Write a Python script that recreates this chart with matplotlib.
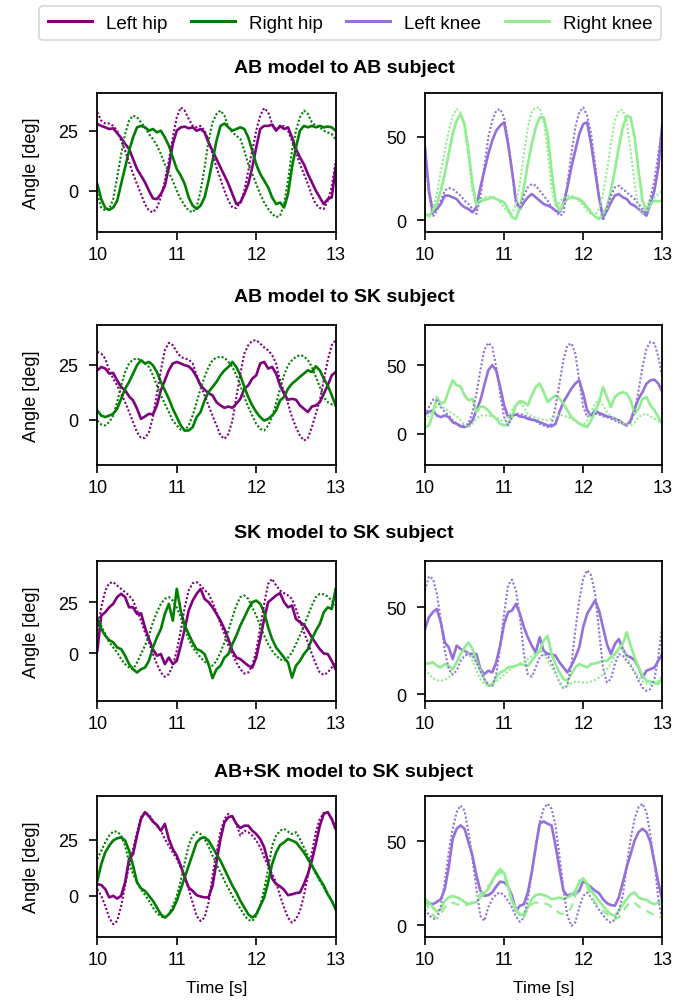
import numpy as np
import matplotlib.pyplot as plt
from matplotlib.lines import Line2D

plt.rcParams['font.family'] = ['Liberation Sans', 'DejaVu Sans']

# sample times [s], one every 0.05 s from 10 to 13
time = np.round(np.arange(10.0, 13.0001, 0.05), 2)

titles = ["AB model to AB subject", "AB model to SK subject",
          "SK model to SK subject", "AB+SK model to SK subject"]

# ---- row 1: AB model to AB subject ----
r1_lhip = [27.8, 27, 26.4, 25.7, 26, 24, 22, 19.5, 17.4, 13.2, 9, 6.3, 3.5, 0, -3.2, -3.5, -1.4, 2, 9.7, 19.5,
           25, 26.4, 26.7, 26, 26.4, 25, 25.7, 24.3, 20, 16.7, 13.2, 9.7, 6.3, 2.8, -1.4, -5.6, -4.9, -1.4, 2.8, 9.7,
           18, 25.7, 27, 27, 27.5, 25, 27, 25.7, 26.4, 22.2, 17.4, 13.9, 11, 7, 3.5, 0, -2.8, -5.6, -3.5, -2.8, 9.7]
r1_lhip_ref = [32.7, 29.2, 28, 28, 27, 25, 20.8, 16.7, 11.8, 7, 2.8, -1.4, -5.6, -8.3, -9, -7, -2.8, 4.2, 12.5, 22.2,
               30.6, 34.7, 33.4, 29.9, 27, 26.4, 27, 25, 20.8, 15.3, 9.7, 4.9, 0, -4.2, -7, -7.2, -4.9, 0, 8.3, 16.7,
               25, 31.3, 34.4, 32.7, 27.8, 25.7, 26.4, 27, 25, 20.8, 16, 11, 7, 2.8, -2, -5.6, -7.2, -7.6, -4.2, 1.4, 12.5]
r1_rhip = [2.8, -3.5, -7.2, -8, -7, -4.2, 2.8, 9.7, 16.7, 22.2, 26.4, 27, 26.4, 25, 25.7, 24.3, 25, 22.2, 18.8, 13.9,
           9, 6.3, 2.8, -2.8, -6.2, -7.6, -6.2, -2.8, 4.2, 12.5, 20.8, 27, 28, 26.4, 25, 25.7, 26.4, 25.7, 22.2, 16.7,
           11, 7, 4.2, 1.4, -2.8, -5.6, -4.9, -7, -1.4, 9.7, 18, 25, 27, 26.4, 27, 26.4, 27, 26.4, 26.7, 26.4, 25]
r1_rhip_ref = [-1.4, -7, -8.3, -7.6, -3.5, 5.6, 15.3, 23.6, 29.2, 31.3, 30.6, 28.5, 26.4, 23.6, 21.5, 18.8, 15.3, 11, 7.6, 4.2,
               0, -3.5, -6.2, -8.3, -9, -7, 0, 9.7, 20.8, 28.5, 31.9, 33.4, 31.3, 26.4, 24.3, 22.9, 21.5, 16.7, 11, 7,
               2.8, -1.4, -4.9, -7.6, -9.7, -11, -10.4, -5.6, 4.2, 16.7, 25, 30.6, 33.4, 32, 28.5, 27, 26.4, 25, 24.3, 23.6, 21.5]
r1_lknee = [43.6, 17.6, 4.6, 6.6, 9.6, 14.6, 14.6, 13.6, 12.6, 9.6, 7.6, 6.6, 4.6, 7.6, 19.6, 29.6, 39.6, 47.6, 53.6, 56.6,
            58.6, 45.6, 29.6, 11.6, 6.6, 10.6, 13.6, 15.6, 13.6, 11.6, 9.6, 8.6, 7.6, 5.6, 4.6, 9.6, 19.6, 31.6, 41.6, 51.6,
            57.6, 58.6, 45.6, 29.6, 13.6, 1.6, 5.6, 10.6, 14.6, 15.6, 13.6, 12.6, 9.6, 8.6, 6.6, 4.6, 2.6, 9.6, 17.6, 31.6, 57.6]
r1_lknee_ref = [41.6, 15.6, 2, 5.6, 11.6, 17.6, 19.2, 18.6, 16.6, 14.6, 11.6, 9.6, 6.6, 3.6, 13.6, 31.6, 49.6, 59.6, 65.6, 66.6,
                61.6, 47.6, 29.6, 9.6, 7.6, 14.6, 19.6, 21.6, 20.6, 17.6, 14.6, 11.6, 7.6, 5.6, 2.6, 3.6, 21.6, 39.6, 55.6, 64.6,
                67.6, 62.6, 51.6, 33.6, 13.6, -0.4, 7.6, 14.6, 19.6, 20.6, 18.6, 16.6, 14.6, 12.6, 9.6, 6.6, 3.6, 13.6, 23.6, 39.6, 55.6]
r1_rknee = [3.6, 2.6, 5.6, 9.6, 17.6, 27.6, 39.6, 51.6, 59.6, 63.6, 57.6, 41.6, 21.6, 9.6, 11.2, 12, 12.6, 13.6, 12.6, 11.6,
            10.6, 6.6, 1.6, 0.6, 7.6, 19.6, 33.6, 45.6, 55.6, 61.6, 61.6, 51.6, 29.6, 11.6, 5.6, 9.6, 12.6, 13.6, 13.2, 12.6,
            10.6, 7.6, 4.6, 2, 0.6, 3.6, 7.6, 17.6, 29.6, 43.6, 55.6, 62.6, 61.6, 49.6, 29.6, 11.6, 4.6, 9.6, 11.6, 11.2, 11.6]
r1_rknee_ref = [2.6, 1.6, 6.6, 15.6, 29.6, 41.6, 53.6, 62.6, 66.6, 64.6, 55.6, 37.6, 17.6, 8.6, 12.6, 13.6, 14, 14, 13.2, 10.6,
                7.6, 4.6, 3.6, 9.6, 21.6, 39.6, 55.6, 64.6, 67.6, 67.2, 59.6, 41.6, 19.6, 7.6, 10.6, 13.6, 14.6, 14.6, 13.6, 11.6,
                8.6, 5.6, 3.6, 2.6, 6.6, 15.6, 29.6, 45.6, 59.6, 65.6, 66, 59.6, 41.6, 21.6, 6.6, 3.6, 7.6, 12.6, 13.6, 15.6, 17.6]

# ---- row 2: AB model to SK subject ----
r2_lhip = [22.4, 23.9, 23.2, 20.9, 21.2, 17.8, 14.8, 13.3, 10.5, 8.7, 4.9, 0.3, 1.4, 2.6, 2.3, 6.4, 13.3, 17.8, 22.4, 25.5,
           26.2, 25.5, 24.7, 24.2, 22.4, 19.4, 15.5, 13.6, 12, 11, 7.9, 6.4, 5.3, 5.9, 5.3, 7.2, 9.4, 14, 15.5, 18.6,
           20.1, 25.5, 26.2, 23.2, 23.9, 20.9, 15.5, 11.7, 9, 9.4, 9, 6.4, 4.9, 3.4, 5.9, 6.4, 7.9, 11.7, 15.5, 20.1, 21.6]
r2_lhip_ref = [30.8, 30, 27.7, 22.4, 18.6, 15.5, 11.7, 7.9, 3.4, -1.2, -5.8, -8.4, -8.4, -5.8, 1.1, 11.7, 22.4, 31.5, 34.9, 33.8,
               30.8, 28.5, 27.7, 27.3, 25.5, 20.1, 15.5, 11, 6.4, 1.8, -2.7, -7.3, -8.8, -6.6, -0.5, 10.2, 20.9, 30, 33.8, 35.8,
               36.1, 34.6, 32.8, 31.5, 29.3, 25.5, 17.8, 12.5, 7.2, 1.1, -3.5, -7.3, -9.6, -8.4, -3.5, 2.6, 8.7, 17.8, 27, 33.8, 36.1]
r2_rhip = [4.1, 1.8, 1.1, 1.8, 2.6, 4.9, 9.4, 14, 17.1, 20.9, 24.7, 27, 25.5, 26.2, 24.7, 21.6, 17.1, 13.3, 9.4, 4.9,
           1.1, -2.7, -5, -5, -3.5, 1.1, 3.4, 8.7, 12.5, 14.8, 17.1, 20.1, 22.4, 23.9, 26.2, 23.9, 20.1, 14.8, 10.2, 6.4,
           3.4, 1.1, -0.5, 0.3, 1.8, 4.1, 8.7, 10.2, 14, 16.3, 17.8, 19.4, 20.9, 22.4, 21.6, 24.2, 22.4, 18.6, 15.5, 11, 6.4]
r2_rhip_ref = [-0.5, -2.3, -2.7, -1.2, 1.8, 7.9, 15.5, 21.6, 25.5, 27.3, 27.7, 27, 25.5, 23.9, 20.1, 15.5, 11, 7.2, 3.4, -0.5,
               -2.7, -4.7, -5, -2.7, 1.8, 7.9, 14, 19.4, 23.9, 27, 28.2, 28.5, 28.2, 26.2, 23.9, 20.1, 15.5, 10.2, 5.6, 1.8,
               -2, -4.3, -5, -2.7, 1.1, 7.2, 14, 20.1, 24.7, 27, 28.5, 29.3, 28.8, 27, 23.9, 19.4, 14.8, 10.2, 7.9, 6.9, 6.4]
r2_lknee = [14.6, 15.9, 17.1, 13.4, 12.2, 13.4, 12.2, 8.5, 7.3, 5.4, 4.9, 6.1, 9.8, 17.1, 24.4, 35.4, 46.3, 50, 46.3, 34.1,
            20.7, 12.2, 13.4, 14.1, 12.7, 12.2, 11, 10.2, 9.8, 8.5, 7.3, 6.1, 5.4, 7.3, 15.9, 23.2, 28, 32.9, 36.6, 39,
            29.3, 17.1, 13.4, 17.1, 15.1, 14.1, 12.7, 12.2, 11, 9.8, 7.8, 6.1, 9.8, 18.3, 25.6, 30.5, 36.6, 39, 39.5, 36.6, 30.5]
r2_lknee_ref = [13.4, 19.5, 24.9, 24.4, 19.5, 15.9, 13.4, 9.8, 7.8, 6.1, 6.1, 7.3, 15.9, 29.3, 46.3, 61, 66.3, 63.4, 48.8, 29.3,
                12.2, 6.1, 12.2, 14.6, 14.6, 13.4, 12.7, 11, 9.3, 7.3, 6.1, 4.9, 7.3, 19.5, 36.6, 53.7, 64.6, 65.9, 58.5, 39,
                19.5, 12.2, 14.1, 14.6, 14.1, 12.7, 12.2, 11, 9.8, 8.5, 7.3, 6.1, 8.5, 15.9, 31.7, 48.8, 62.2, 67.1, 65.9, 56.1, 41.5]
r2_rknee = [4.9, 6.1, 14.6, 26.8, 22, 23.2, 31.7, 39, 35.4, 34.6, 28, 24.4, 25.6, 15.9, 20, 19.5, 17.1, 13.4, 11, 7.3,
            6.1, 7.3, 12.2, 20.7, 23.9, 23.2, 20.7, 28, 34.1, 36.6, 30.5, 23.2, 25.6, 28, 25.6, 22, 17.1, 12.2, 9.8, 7.3,
            6.1, 4.9, 9.8, 15.9, 23.2, 34.1, 26.8, 19.5, 26.8, 29.3, 30.5, 29.3, 24.4, 14.6, 18.3, 25.6, 26.8, 20.7, 17.1, 12.2, 7.3]
r2_rknee_ref = [9.8, 13.4, 17.1, 20, 20.7, 18.3, 16.6, 14.6, 12.7, 9.8, 6.8, 4.9, 7.3, 11, 13.4, 13.4, 13.4, 12.7, 12.2, 10.2,
                9.3, 12.2, 17.1, 22, 23.2, 19.5, 14.6, 12.7, 11.7, 11, 10.2, 9.8, 11, 12.7, 14.1, 13.4, 12.2, 11, 9.8, 7.8,
                6.8, 9.8, 15.9, 22, 24.4, 20.7, 15.9, 12.7, 11, 9.3, 7.8, 6.8, 6.1, 8.5, 12.2, 14.1, 14.6, 12.7, 11, 9.3, 7.3]

# ---- row 3: SK model to SK subject ----
r3_lhip = [1.3, 18.5, 20.1, 22.5, 24.2, 27.5, 29.1, 27.5, 22.5, 22.5, 19.3, 19.6, 12.7, 7, 2.1, -1.1, -0.3, -5.2, -2, -5.2,
           -3.6, 3.8, 11.9, 20.9, 25.8, 29.1, 31.5, 26.6, 25, 22.5, 19.3, 16, 11.9, 7, 1.3, -2, -2.8, -4.4, -6, -6.9,
           -2, 7, 16.8, 25, 26.6, 28.3, 29.4, 25, 22.5, 23.4, 16.8, 15.2, 14.1, 11.1, 7.8, 4.9, 2.1, 0, -0.3, -3.6, -7.7]
r3_lhip_ref = [11.1, 22.5, 30.7, 34.3, 34.8, 33.2, 31.5, 29.9, 28.3, 25.8, 20.9, 16, 10.3, 5.4, -0.3, -5.2, -9.3, -11.4, -10.1, -6,
               1.3, 11.1, 22.5, 30.7, 34.3, 34.8, 33.2, 31, 29.1, 25, 20.1, 14.4, 9.5, 3.8, -0.3, -4.4, -7.7, -9.8, -9.3, -6,
               1.3, 12.7, 24.2, 34, 36.4, 33.2, 30.7, 29.4, 28.3, 26.6, 21.7, 16, 10.3, 5.4, -0.3, -5.2, -9.3, -10.5, -9.3, -6.9, -3.6]
r3_rhip = [16.8, 11.9, 8.7, 6.5, 5.4, 2.9, 2.1, -1.1, -5.2, -7.7, -9.3, -7.7, -6.9, -3.6, 2.9, 7.8, 11.9, 19.3, 24.2, 16,
           31.5, 20.9, 13.6, 9.5, 5.4, 2.1, 1.3, -0.3, -5.2, -12.1, -7.7, -6, -2, -0.3, 4.6, 8.7, 13.6, 17.6, 21.7, 25,
           25.8, 24.2, 20.1, 12.7, 7, 2.9, 0.5, -2, -4.4, -11.8, -6, -3.6, -0.3, 2.1, 7, 11.1, 14.4, 20.1, 22.5, 21.7, 31.5]
r3_rhip_ref = [17.6, 13.6, 9.5, 5.4, 2.9, 0.5, -2.8, -5.2, -6.9, -7.7, -4.4, -0.3, 3.8, 8.7, 15.2, 20.1, 24.2, 26.6, 27.5, 25.8,
               22.5, 17.6, 11.9, 7, 2.9, 0.5, -2, -3.9, -5.6, -6, -3.6, 0.5, 5.4, 11.1, 17.6, 23.4, 27.5, 28.3, 26.6, 22.5,
               18.5, 13.6, 8.7, 4.6, 1.3, -1.1, -2.8, -3.6, -2, 0.5, 4.6, 8.7, 13.6, 18.5, 23.4, 27.5, 29.1, 28.8, 27.8, 25.8, 23.4]
r3_lknee = [37.5, 44.2, 47.1, 49, 41.3, 29.8, 26.9, 20.2, 27.9, 26, 25, 23.5, 23.1, 23.1, 14.4, 11.5, 13.5, 12.5, 18.3, 27.9,
            40.4, 47.1, 48.1, 51.9, 46.2, 38.5, 32.7, 27.9, 24, 32.7, 25, 23.1, 23.1, 22.1, 18.3, 15.4, 12.5, 16.3, 21.2, 26.9,
            38.5, 46.2, 50, 53.8, 48.1, 38.5, 28.8, 23.1, 28.8, 31.7, 26, 22.1, 21.2, 19.6, 15.4, 9.6, 13.5, 14.4, 15.4, 19.2, 23.1]
r3_lknee_ref = [59.6, 67.7, 66.3, 57.7, 42.3, 25, 14.4, 11.2, 13.5, 19.2, 22.1, 23.1, 22.1, 18.3, 13.5, 8.7, 5.4, 4.2, 11.5, 26.9,
                46.2, 62.5, 65.8, 59.6, 44.2, 23.1, 11.5, 10, 15.4, 21.2, 23.1, 22.1, 18.3, 12.5, 6.7, 3.5, 4.8, 17.3, 36.5, 53.8,
                66.3, 71.2, 68.3, 57.7, 36.5, 15.4, 6.7, 8.7, 17.3, 23.1, 22.1, 19.2, 16.3, 12.5, 7.7, 3.8, 1.9, 2.9, 8.7, 21.2, 40.4]
r3_rknee = [17.3, 17.7, 18.3, 16.3, 15.4, 17.3, 16.3, 14.4, 18.3, 23.1, 26.9, 29.8, 26, 19.2, 13.5, 8.7, 4.8, 5.8, 9.6, 12.5,
            13.5, 15.4, 15.8, 16.3, 17.3, 16.9, 16.3, 19.2, 22.1, 25, 30.8, 33.6, 23.1, 17.3, 12.5, 8.7, 7.7, 11.5, 15.4, 17.3,
            16.3, 15.4, 17.3, 17.7, 18.3, 19.2, 19.2, 21.2, 23.1, 26, 28.8, 35.6, 27.9, 21.2, 15.4, 10.6, 7.7, 7.3, 6.7, 5.8, 9.6]
r3_rknee_ref = [14.4, 11.5, 9.2, 8.1, 7.7, 8.1, 9.6, 13.5, 18.3, 23.1, 26, 24, 19.2, 13.5, 8.7, 5.8, 4.8, 5.4, 7.3, 9.2,
                11.2, 13.1, 15, 16.3, 17.7, 18.8, 20.2, 22.1, 24, 25, 23.1, 19.2, 15.4, 11.5, 7.7, 4.2, 4.8, 6.2, 7.3, 7.1,
                6.7, 6.7, 7.3, 8.1, 9.6, 11.5, 14.4, 17.3, 22.1, 26.5, 26, 22.1, 17.3, 13.1, 9.6, 7.3, 6.2, 5.8, 5.8, 7.7, 10.6]

# ---- row 4: AB+SK model to SK subject ----
r4_lhip = [5.2, 4.8, 3, -0.7, 0, -1.2, 0, 6, 16.4, 18.6, 26.8, 34.2, 37.2, 35.4, 33, 31.5, 29, 32, 25.3, 20.8,
           17.9, 13.4, 8.2, 3.7, 2.2, 0.3, -0.3, -0.7, -0.7, 4.5, 14.9, 25.3, 32.7, 35, 35.4, 32, 30.1, 31.2, 31.2, 29,
           27.5, 25.3, 21.6, 14.9, 7.7, 5.2, 4.2, 2.7, 0.3, 0.7, 1.2, 1.5, 5.2, 9.7, 15.6, 23.1, 31.2, 36.5, 37.2, 34.2, 29.8]
r4_lhip_ref = [3, 0, -4.5, -9.7, -12.6, -11.2, -4.5, 4.5, 13.4, 20.8, 28.3, 35, 37.2, 36, 33.5, 31.2, 29, 25.3, 22.3, 19.3,
               16.4, 12.6, 8.9, 3, -3, -8.9, -11.2, -9.7, -3, 8.9, 19.3, 28.3, 34.2, 36.5, 35, 32, 26.8, 29, 28.3, 26.8,
               24.6, 21.6, 17.1, 13.4, 9.7, 6, 0, -5.2, -9.7, -11.9, -10.4, -6.7, 0, 8.9, 19.3, 28.3, 34.2, 36.9, 37.2, 34.2, 29]
r4_rhip = [6.7, 14.1, 19.3, 22.3, 24.6, 25.6, 26, 24.6, 20.1, 13.4, 6, 3.3, 2.2, 0, -2.2, -5.2, -8.2, -9.7, -8.2, -6,
           -2.2, 3, 8.2, 13.4, 18.6, 23.8, 25.6, 26, 24.6, 21.6, 18.6, 15.6, 11.9, 8.2, 4.5, 1.5, -2.2, -5.2, -8.2, -9.7,
           -8.2, -4.5, -0.7, 6, 14.1, 19.3, 22.6, 23.8, 25.3, 24.6, 23.8, 21.6, 19.3, 16.4, 13.4, 10.4, 7.4, 4.5, 0.7, -2.2, -6]
r4_rhip_ref = [16.4, 20.1, 23.8, 26.8, 28.6, 28.6, 26.8, 22.3, 14.9, 9.7, 6, 3, 0.3, -2.2, -5.2, -7.7, -9.2, -9.7, -8.2, -4.5,
               0, 6.7, 14.9, 22.3, 26.8, 28.3, 27.5, 25.3, 22, 17.9, 14.1, 10.4, 6.7, 3.3, 0, -3, -5.7, -8.6, -10.7, -11.2,
               -8.9, -4.5, 3, 11.9, 22.3, 26.8, 29, 29.8, 28.6, 27.5, 28.3, 25.3, 21.6, 17.9, 14.1, 9.7, 6.7, 3.7, 0.7, -2.2, -5.2]
r4_lknee = [13.5, 13.1, 12.5, 13.9, 15.5, 21.5, 34.5, 51.4, 57.4, 59.4, 57.4, 49.4, 41.4, 29.5, 20.5, 17.5, 17.9, 19.5, 23.1, 25.9,
            25.5, 23.1, 17.5, 8.6, 11.6, 12.5, 19.5, 31.5, 46.4, 60.4, 61.8, 60.4, 59.4, 47.4, 33.5, 20.5, 17.5, 18.5, 18.5, 20.5,
            26.5, 24.5, 22.5, 20.5, 19.1, 15.5, 13.1, 12, 11.6, 16.5, 25.5, 34.5, 42.4, 50.4, 55.4, 57.4, 55.4, 49.4, 37.5, 25.5, 14.5]
r4_lknee_ref = [9.6, 6, 4, 3.6, 11.6, 25.5, 43.4, 57.4, 67.3, 71.3, 68.3, 55.4, 39.4, 21.5, 5.6, 2.6, 10.6, 15.5, 18.5, 19.5,
                17.9, 14.5, 10.6, 5.2, 2, 4.6, 15.5, 31.5, 47.4, 61.4, 69.3, 72.3, 69.3, 59.4, 41.4, 21.5, 5.6, -0.4, 1.6, 10.6,
                17.5, 19.5, 16.5, 12.5, 9.2, 6, 3.2, 1.6, 3.2, 8.6, 17.5, 35.5, 51.4, 63.3, 70.3, 72.3, 67.3, 53.4, 37.5, 15.5, 2.6]
r4_rknee = [15.5, 13.5, 10.6, 8, 9.6, 14.5, 16.5, 17.5, 16.5, 15.5, 13.9, 12.5, 13.1, 13.9, 16.5, 19.1, 21.5, 26.5, 30.5, 33.5,
            31.1, 23.5, 14.5, 9.6, 6, 6.6, 10.6, 15.5, 17.9, 18.5, 17.9, 17.1, 15.5, 15.9, 16.5, 15.5, 16.5, 17.9, 20.5, 25.5,
            27.9, 24.5, 20.5, 17.5, 14.5, 11.6, 8.6, 6.6, 5.6, 8.6, 12.5, 15.5, 18.5, 19.5, 16.5, 15.5, 15.1, 13.5, 12.5, 13.5, 14.5]
r4_rknee_ref = [14.5, 9.6, 6, 4, 6.6, 10.6, 13.1, 13.5, 12.5, 12, 11.6, 12.5, 13.9, 16.5, 18.5, 21.5, 23.5, 25.5, 28.5, 31.9,
                29.5, 21.5, 13.5, 8.6, 5.6, 4.6, 9.6, 12.5, 13.5, 13.5, 13.1, 12.5, 10.6, 9.2, 7.2, 6.6, 7.2, 10.6, 17.5, 26.5,
                27.5, 22.5, 17.5, 13.5, 10.6, 8.6, 6.6, 4.6, 3.6, 4.6, 7.6, 11.6, 13.9, 13.5, 11.2, 9.6, 8.6, 7.2, 6, 5.2, 4.6]

hip_rows = [(r1_lhip, r1_lhip_ref, r1_rhip, r1_rhip_ref),
            (r2_lhip, r2_lhip_ref, r2_rhip, r2_rhip_ref),
            (r3_lhip, r3_lhip_ref, r3_rhip, r3_rhip_ref),
            (r4_lhip, r4_lhip_ref, r4_rhip, r4_rhip_ref)]
knee_rows = [(r1_lknee, r1_lknee_ref, r1_rknee, r1_rknee_ref),
             (r2_lknee, r2_lknee_ref, r2_rknee, r2_rknee_ref),
             (r3_lknee, r3_lknee_ref, r3_rknee, r3_rknee_ref),
             (r4_lknee, r4_lknee_ref, r4_rknee, r4_rknee_ref)]

hip_ylim = [(-17.2, 40.7), (-20.7, 43.0), (-23.2, 45.1), (-18.3, 44.4)]
knee_ylim = [(-7.2, 76.2), (-22.7, 79.3), (-3.9, 76.5), (-7.0, 76.9)]

C_LHIP, C_RHIP = "purple", "green"
C_LKNEE, C_RKNEE = "mediumpurple", "lightgreen"

W, H = 688, 1004
fig = plt.figure(figsize=(W / 100, H / 100), dpi=100)

row_px = [(94, 233), (326, 466), (562, 702), (797, 938)]
title_px = [69, 298, 534, 773]
col_px = [(97.3, 335.7), (425.0, 662.3)]


def style_axes(ax, last_row):
    ax.set_xlim(10, 13)
    ax.set_xticks([10, 11, 12, 13])
    ax.tick_params(direction="out", length=6, width=1.2, labelsize=13, pad=4)
    ax.tick_params(axis="y", pad=7.5)
    for sp in ax.spines.values():
        sp.set_linewidth(1.3)
    if last_row:
        ax.set_xlabel("Time [s]", fontsize=12.5, labelpad=9)


for i in range(4):
    top, bot = row_px[i]
    axes = []
    for (x0, x1) in col_px:
        axes.append(fig.add_axes([x0 / W, 1 - bot / H, (x1 - x0) / W, (bot - top) / H]))
    ax_h, ax_k = axes

    lh, lh_ref, rh, rh_ref = hip_rows[i]
    ax_h.plot(time, lh, color=C_LHIP, lw=1.9)
    ax_h.plot(time, rh, color=C_RHIP, lw=1.9)
    ax_h.plot(time, lh_ref, color=C_LHIP, lw=1.5, ls=(0, (1, 1)))
    ax_h.plot(time, rh_ref, color=C_RHIP, lw=1.5, ls=(0, (1, 1)))
    ax_h.set_ylim(*hip_ylim[i])
    ax_h.set_yticks([0, 25])
    ax_h.set_ylabel("Angle [deg]", fontsize=13, labelpad=13)

    lk, lk_ref, rk, rk_ref = knee_rows[i]
    ax_k.plot(time, lk, color=C_LKNEE, lw=1.9)
    ax_k.plot(time, rk, color=C_RKNEE, lw=1.9)
    ax_k.plot(time, lk_ref, color=C_LKNEE, lw=1.5, ls=(0, (1, 1)))
    rk_style = (0, (4, 3)) if i == 3 else (0, (1, 1))
    ax_k.plot(time, rk_ref, color=C_RKNEE, lw=1.5, ls=rk_style)
    ax_k.set_ylim(*knee_ylim[i])
    ax_k.set_yticks([0, 50])

    style_axes(ax_h, i == 3)
    style_axes(ax_k, i == 3)

    fig.text(0.5, 1 - title_px[i] / H, titles[i], ha="center", va="center",
             fontsize=14, fontweight="bold")

handles = [Line2D([], [], color=c, lw=2.2) for c in (C_LHIP, C_RHIP, C_LKNEE, C_RKNEE)]
leg = fig.legend(handles, ["Left hip", "Right hip", "Left knee", "Right knee"],
                 loc="center", bbox_to_anchor=(0.509, 1 - 24 / H), ncol=4,
                 fontsize=13.5, frameon=True, fancybox=True, handlelength=2.35,
                 handletextpad=0.75, columnspacing=1.25, borderpad=0.45)
leg.get_frame().set_edgecolor("#cccccc")
leg.get_frame().set_linewidth(1.2)

fig.savefig("out.png", dpi=100)
